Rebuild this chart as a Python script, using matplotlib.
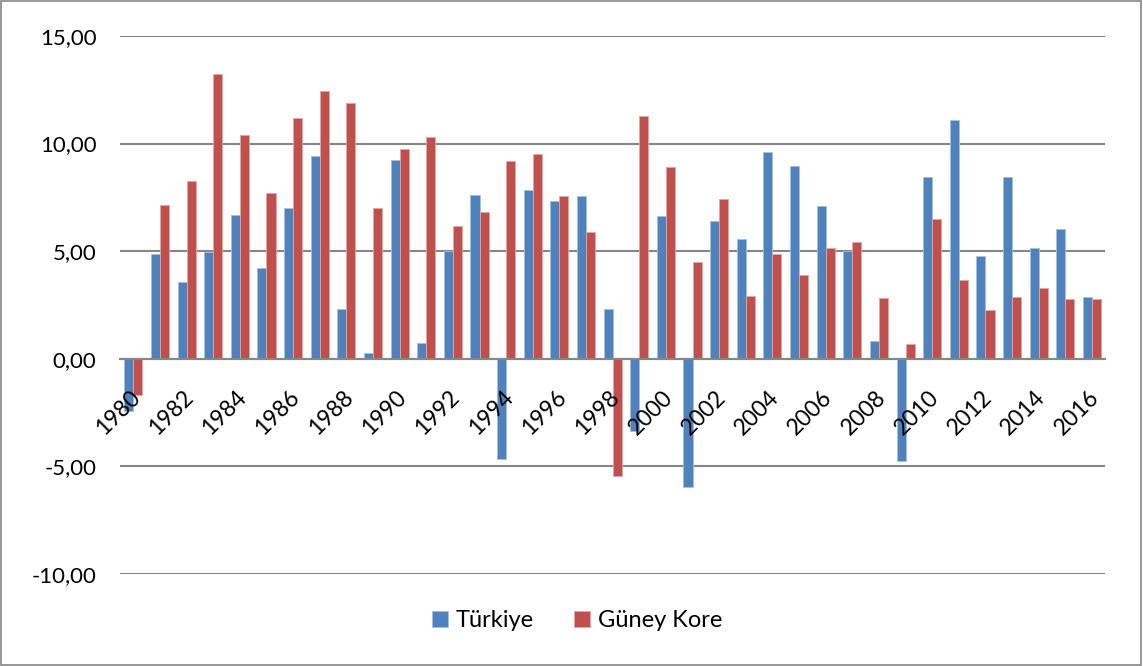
import numpy as np
import matplotlib.pyplot as plt
from matplotlib.patches import Rectangle

years = list(range(1980, 2017))
turkiye = [-2.44, 4.85, 3.56, 4.97, 6.70, 4.21, 7.01, 9.44, 2.31, 0.29,
           9.24, 0.73, 5.03, 7.62, -4.65, 7.85, 7.35, 7.55, 2.30, -3.36,
           6.62, -5.94, 6.42, 5.58, 9.63, 8.98, 7.09, 5.01, 0.81, -4.73,
           8.47, 11.10, 4.76, 8.47, 5.15, 6.05, 2.85]
guney_kore = [-1.68, 7.16, 8.24, 13.21, 10.40, 7.72, 11.19, 12.44, 11.87, 7.01,
              9.77, 10.31, 6.16, 6.82, 9.17, 9.52, 7.56, 5.90, -5.45, 11.28,
              8.89, 4.52, 7.41, 2.91, 4.87, 3.91, 5.15, 5.44, 2.81, 0.67,
              6.48, 3.66, 2.26, 2.87, 3.30, 2.76, 2.79]
y_ticks = [-10, -5, 0, 5, 10, 15]

plt.rcParams["font.family"] = ["Lato", "DejaVu Sans"]

fig = plt.figure(figsize=(11.43, 6.66), dpi=100)
ax = fig.add_axes([0.105, 0.138, 0.862, 0.808])

# spine position first: moving it resets the tick labels
for s in ["top", "right", "left"]:
    ax.spines[s].set_visible(False)
ax.spines["bottom"].set_position(("data", 0))
ax.spines["bottom"].set_color("#868686")
ax.spines["bottom"].set_linewidth(1.5)
ax.spines["bottom"].set_zorder(4)

# gridlines behind the bars, year labels on top of them (like Excel)
for v in y_ticks:
    ax.axhline(v, color="#868686", linewidth=1.5, zorder=0)
ax.set_axisbelow(False)

x = np.arange(len(years))
w = 0.34
ax.bar(x - w / 2, turkiye, w, color="#4F81BD", edgecolor="#A7C0DE",
       linewidth=0.6, label="Türkiye", zorder=2)
ax.bar(x + w / 2, guney_kore, w, color="#C0504D", edgecolor="#E0A9A7",
       linewidth=0.6, label="Güney Kore", zorder=2)

ax.set_xlim(-0.5, len(years) - 0.5)
ax.set_ylim(-10, 15)
ax.set_yticks(y_ticks)
ax.set_yticklabels([f"{v:.2f}".replace(".", ",") for v in y_ticks], fontsize=16)
ax.tick_params(axis="y", length=0, pad=17)

ax.set_xticks(x[::2] - 0.15)
ax.set_xticklabels([str(y) for y in years[::2]], rotation=45, ha="right",
                   va="top", rotation_mode="anchor", fontsize=16.5)
ax.tick_params(axis="x", length=0, pad=20)

fig.legend(loc="lower center", bbox_to_anchor=(0.505, 0.02), ncol=2,
           frameon=False, fontsize=17, handlelength=0.65, handleheight=0.65,
           columnspacing=1.7, handletextpad=0.35)

fig.patches.append(Rectangle((0.001, 0.002), 0.997, 0.996, transform=fig.transFigure,
                             fill=False, edgecolor="#868686", linewidth=1.2))

fig.savefig("out.png", dpi=100)
